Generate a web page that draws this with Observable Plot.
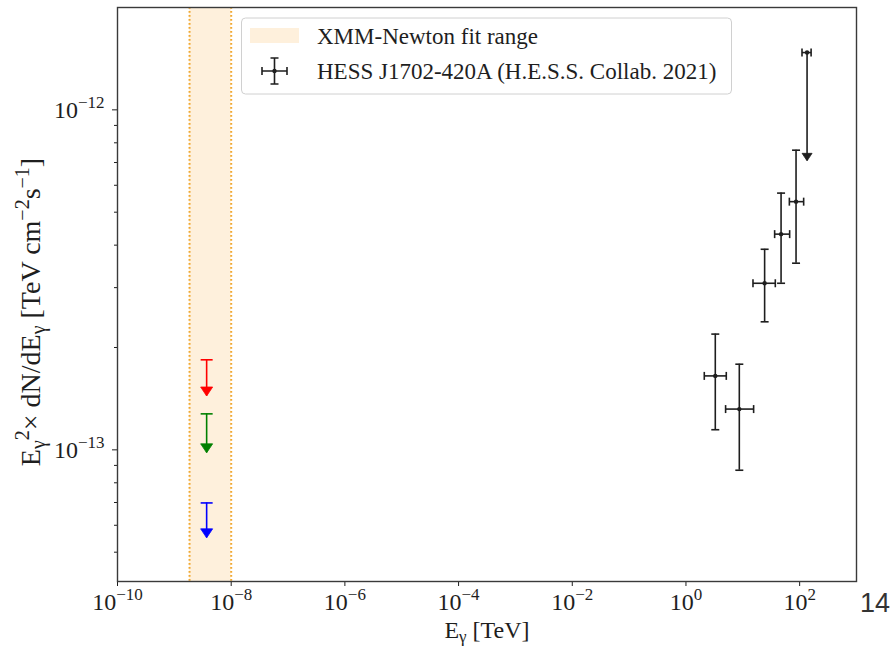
<!DOCTYPE html>
<html>
<head>
<meta charset="utf-8">
<script src="https://cdn.jsdelivr.net/npm/d3@7"></script>
<script src="https://cdn.jsdelivr.net/npm/@observablehq/plot@0.6"></script>
<style>
  html, body { margin: 0; padding: 0; background: #fff; }
  #chart { width: 892px; height: 647px; }
</style>
</head>
<body>
<div id="chart"></div>
<script>
// --- X-ray fit range (TeV) ---
const bandLo = 1.85e-9;
const bandHi = 1e-8;

// --- X-ray upper limits (TeV, TeV cm^-2 s^-1) ---
const xrayE = [3.7e-9, 3.7e-9, 3.7e-9];
const xrayUL = [1.84e-13, 1.276e-13, 6.98e-14];
const xrayArrowEnd = [1.44e-13, 9.8e-14, 5.51e-14];
const xrayColors = ["#ff0000", "#008000", "#0000ff"];

// --- HESS J1702-420A spectral points ---
const hessE = [3.28, 8.68, 24.2, 47.1, 86.4];
const hessELo = [2.10, 4.98, 15.1, 36.3, 65.9];
const hessEHi = [5.12, 15.5, 37.3, 66.7, 117.6];
const hessF = [1.65e-13, 1.318e-13, 3.09e-13, 4.31e-13, 5.37e-13];
const hessFLo = [1.146e-13, 8.71e-14, 2.38e-13, 3.09e-13, 3.54e-13];
const hessFHi = [2.19e-13, 1.786e-13, 3.89e-13, 5.69e-13, 7.61e-13];

// --- HESS upper limit (highest energy bin) ---
const hessUlE = [135];
const hessUlELo = [110];
const hessUlEHi = [159];
const hessUl = [1.474e-12];
const hessUlArrowEnd = [7.08e-13];

// --- axes ---
const xTicks = [1e-10, 1e-8, 1e-6, 1e-4, 1e-2, 1e0, 1e2];
const yTicks = [1e-13, 1e-12];
const yMinorTicks = [5e-14, 6e-14, 7e-14, 8e-14, 9e-14,
  2e-13, 3e-13, 4e-13, 5e-13, 6e-13, 7e-13, 8e-13, 9e-13];

const legendLabels = ["XMM-Newton fit range", "HESS J1702-420A (H.E.S.S. Collab. 2021)"];
const pageNumber = "14";

// tables for the marks
const hess = hessE.map((e, i) => ({e, elo: hessELo[i], ehi: hessEHi[i], f: hessF[i], flo: hessFLo[i], fhi: hessFHi[i]}));
const hessUL = hessUlE.map((e, i) => ({e, elo: hessUlELo[i], ehi: hessUlEHi[i], ul: hessUl[i], end: hessUlArrowEnd[i]}));
const xray = xrayE.map((e, i) => ({e, ul: xrayUL[i], end: xrayArrowEnd[i], c: xrayColors[i]}));

// small symbols: error-bar caps and a downward arrowhead whose tip sits on the point
const hcap = {draw(ctx, size) { const r = Math.sqrt(size / Math.PI); ctx.moveTo(-r, 0); ctx.lineTo(r, 0); }};
const vcap = {draw(ctx, size) { const r = Math.sqrt(size / Math.PI); ctx.moveTo(0, -r); ctx.lineTo(0, r); }};
const arrowDown = {draw(ctx, size) {
  const r = Math.sqrt(size / Math.PI);
  ctx.moveTo(0, 0); ctx.lineTo(-r, -1.5 * r); ctx.lineTo(r, -1.5 * r); ctx.closePath();
}};

const ink = "#1e1e1e";
const bandFill = "#fdebd0";
const bandEdge = "#f0a830";
const serif = "'Liberation Serif', 'DejaVu Serif', serif";
const fs = 24;
const supFs = 17;

const expFormat = d => "10^" + String(Math.round(Math.log10(d))).replace("-", "\u2212");

const chart = Plot.plot({
  width: 892,
  height: 647,
  marginLeft: 117,
  marginRight: 36,
  marginTop: 7,
  marginBottom: 66,
  style: {fontFamily: serif, fontSize: fs + "px", color: ink, background: "#fff"},
  x: {type: "log", domain: [1e-10, 1e3]},
  y: {type: "log", domain: [4.1e-14, 2e-12]},
  color: {type: "identity"},
  marks: [
    // fit range band with dotted edges
    Plot.rect([{lo: bandLo, hi: bandHi}], {x1: "lo", x2: "hi", fill: bandFill, fillOpacity: 0.75}),
    Plot.ruleX([bandLo, bandHi], {stroke: bandEdge, strokeWidth: 2, strokeDasharray: "1.8,2.2"}),

    // X-ray upper limits
    Plot.ruleX(xray, {x: "e", y1: "end", y2: "ul", stroke: "c", strokeWidth: 1.6}),
    Plot.dot(xray, {x: "e", y: "ul", symbol: hcap, r: 6, fill: "none", stroke: "c", strokeWidth: 1.6}),
    Plot.dot(xray, {x: "e", y: "end", symbol: arrowDown, r: 6, fill: "c", stroke: "c", strokeWidth: 0.8}),

    // HESS flux points
    Plot.ruleX(hess, {x: "e", y1: "flo", y2: "fhi", stroke: ink, strokeWidth: 1.6}),
    Plot.link(hess, {x1: "elo", x2: "ehi", y1: "f", y2: "f", stroke: ink, strokeWidth: 1.6}),
    Plot.dot(hess, {x: "e", y: "fhi", symbol: hcap, r: 4, fill: "none", stroke: ink, strokeWidth: 1.6}),
    Plot.dot(hess, {x: "e", y: "flo", symbol: hcap, r: 4, fill: "none", stroke: ink, strokeWidth: 1.6}),
    Plot.dot(hess, {x: "elo", y: "f", symbol: vcap, r: 4, fill: "none", stroke: ink, strokeWidth: 1.6}),
    Plot.dot(hess, {x: "ehi", y: "f", symbol: vcap, r: 4, fill: "none", stroke: ink, strokeWidth: 1.6}),
    Plot.dot(hess, {x: "e", y: "f", r: 2.2, fill: ink, stroke: "none"}),

    // HESS upper limit
    Plot.ruleX(hessUL, {x: "e", y1: "end", y2: "ul", stroke: ink, strokeWidth: 1.6}),
    Plot.link(hessUL, {x1: "elo", x2: "ehi", y1: "ul", y2: "ul", stroke: ink, strokeWidth: 1.6}),
    Plot.dot(hessUL, {x: "elo", y: "ul", symbol: vcap, r: 4, fill: "none", stroke: ink, strokeWidth: 1.6}),
    Plot.dot(hessUL, {x: "ehi", y: "ul", symbol: vcap, r: 4, fill: "none", stroke: ink, strokeWidth: 1.6}),
    Plot.dot(hessUL, {x: "e", y: "ul", r: 2.2, fill: ink, stroke: "none"}),
    Plot.dot(hessUL, {x: "e", y: "end", symbol: arrowDown, r: 5, fill: ink, stroke: ink, strokeWidth: 0.8}),

    // axes
    Plot.axisX({ticks: xTicks, tickSize: 5, tickPadding: 6, tickFormat: expFormat, label: null, fontSize: fs}),
    Plot.axisY({ticks: yTicks, tickSize: 5, tickPadding: 8, tickFormat: expFormat, label: null, fontSize: fs}),
    Plot.axisY({ticks: yMinorTicks, tickSize: 3, tickFormat: () => "", label: null}),
    Plot.frame({stroke: "#3a3a3a", strokeWidth: 1.4})
  ]
});

document.getElementById("chart").append(chart);
const svg = d3.select(chart);

// rebuild "10^n" tick labels as base + superscript
svg.selectAll('g[aria-label$="tick label"] text').each(function() {
  const t = d3.select(this);
  const s = t.text();
  if (!s.includes("^")) return;
  const [base, exp] = s.split("^");
  t.text(null);
  t.append("tspan").text(base);
  t.append("tspan").attr("dy", "-10").attr("font-size", supFs).text(exp);
});

// rich text helper: parts are [text, shift, size]
function richText(g, parts) {
  let cur = 0;
  parts.forEach(([txt, shift, size]) => {
    const sp = g.append("tspan").attr("dy", shift - cur).text(txt);
    if (size) sp.attr("font-size", size);
    cur = shift;
  });
}

// axis titles
const xl = svg.append("text").attr("x", 487).attr("y", 638).attr("text-anchor", "middle")
  .attr("font-family", serif).attr("font-size", fs).attr("fill", ink);
richText(xl, [["E", 0], ["\u03b3", 4, supFs], [" [TeV]", 0]]);

const yl = svg.append("text").attr("transform", "translate(40,312) rotate(-90)").attr("text-anchor", "middle")
  .attr("font-family", serif).attr("font-size", 28).attr("fill", ink);
richText(yl, [["E", 0], ["\u03b3", 5, 20], ["2", -11, 20], ["\u00d7 dN/dE", 0], ["\u03b3", 5, 20],
  [" [TeV cm", 0], ["\u22122", -11, 20], ["s", 0], ["\u22121", -11, 20], ["]", 0]]);

// legend
const lg = svg.append("g").attr("font-family", serif).attr("font-size", 23).attr("fill", ink)
  .attr("text-anchor", "start");
lg.append("rect").attr("x", 241.5).attr("y", 18).attr("width", 490).attr("height", 76).attr("rx", 4)
  .attr("fill", "#fff").attr("fill-opacity", 0.85).attr("stroke", "#d0d0d0").attr("stroke-width", 1);
lg.append("rect").attr("x", 250).attr("y", 28).attr("width", 49).attr("height", 15)
  .attr("fill", bandFill).attr("fill-opacity", 0.75);
lg.append("text").attr("x", 317).attr("y", 44).text(legendLabels[0]);
const sym = lg.append("g").attr("stroke", ink).attr("stroke-width", 1.6).attr("fill", "none");
sym.append("path").attr("d", "M262,71H287M262,67V75M287,67V75M274.5,58V84M270.5,58H278.5M270.5,84H278.5");
lg.append("circle").attr("cx", 274.5).attr("cy", 71).attr("r", 2.2).attr("fill", ink);
lg.append("text").attr("x", 317).attr("y", 79).text(legendLabels[1]);

// page number
svg.append("text").attr("x", 860).attr("y", 612).attr("text-anchor", "start")
  .attr("font-family", "'Liberation Sans', Arial, sans-serif")
  .attr("font-size", 27).attr("fill", "#333").text(pageNumber);
</script>
</body>
</html>
